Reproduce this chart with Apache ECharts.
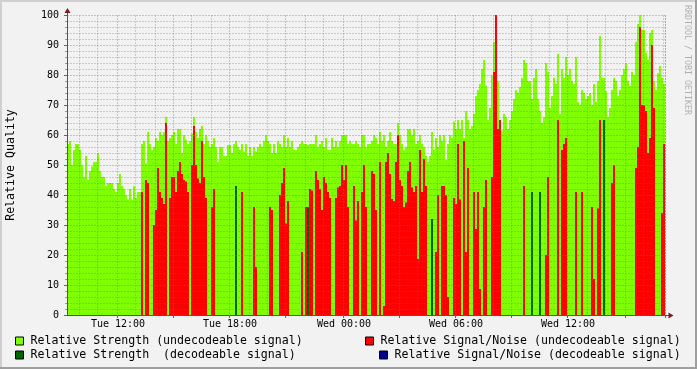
<!DOCTYPE html>
<html><head><meta charset="utf-8">
<script src="https://cdn.jsdelivr.net/npm/echarts@6/dist/echarts.min.js"></script>
<style>html,body{margin:0;padding:0;background:#f2f2f2}#c{width:697px;height:369px}</style>
</head><body><div id="c"></div>
<script>
// ---- data (one value per sample) ----
const strengthUndecodeable = [
57,58,50,55,57,57,55,50,46,53,
45,48,49.5,51,51,54,48,46,46,43,
44,44,44,42,41,44,47,43,42,40,
38.5,42,38.5,43,39,41,41,57,58,50.5,
61,57,55,56,59,58,61,60,61,66,
58,59,60,61,57,62,62,54,60,58.5,
57,58,60.5,66,61,59,62,63,57,60,
58,56,57,59,56,51,56,56,53,53,
56.7,56.7,54,57,58,56,55,57,54.5,57,
53,56,53,56,54.5,56,57,56,58,60,
58,57,54,57,54,58,57,56,60,56,
59,56,58,55,55,56,57,58,57,57,
56.7,57,57,57,60,56,57,58,56,59,
55,55,59,56,58,56,58,60,60,60,
57,58,57,57,58,57,56,60,60,56,
57,57,58,60,59,57,61,58,60,56,
58,61,58,57,57,64,60,57,55,56,
62,62,60,62,57,58,60,57,56,53,
51,53,61,55,59,56,60,58,60,51.7,
57,60,59,64.5,62,65,62,65,59,68,
65,62,63,67,73,75,77,82,85,76.5,
65,69,80,91,82,78,63,61.5,67,66,
62,65,68,72,75,74,76,79,85,84,
78,78,72,79,82,72,68,64,66,84,
81,69,73,79,77,87,67,82,79,86,
80,82,78,77,86,71,70,75,74,72,
73,74,70,77,71,78,93,79,79,74.7,
66,69,75,79,78,73,75,80,82,84,
78,76.3,81,80,91,97,100,95,95,87.5,
85,94,95,78,75,80.6,83,79,77
];
const snrUndecodeable = [
0,0,0,0,0,0,0,0,0,0,
0,0,0,0,0,0,0,0,0,0,
0,0,0,0,0,0,0,0,0,0,
0,0,0,0,0,0,0,41,0,45,
44,0,0,30,35,49,41,39,37,64,
0,39,46,46,41,48,51,47,45,44.5,
41,0,50,63,50,45.5,44,58,46,39,
0,0,36,42,0,0,0,0,0,0,
0,0,0,0,8,0,0,41,0,0,
0,0,0,36,16,0,0,0,0,0,
0,36,35,0,0,0,40,44,49,30.5,
38,0,0,0,0,0,0,21,0,36,
20,42,41.5,0,48,45,42,35,46,44,
41,39,0,0,39,42.5,43,50,45,50,
36,0,0,43,31.5,38,0,41,50,36,
0,0,48,47,35,0,51,0,3,51,
54,47,38.7,38,51,60,45,43,36,37.5,
48,51,42.5,41,43,18.7,55,41,52,43,
0,0,0,0,21,40,0,43,43,40,
6,0,0,39,37,57,38.5,0,58,21,
49,0,0,41,28.7,41,8.7,0,36,45,
0,0,46,81,100,62,65,0,0,0,
0,0,0,0,0,0,0,0,43,0,
0,0,0,0,0,0,0,0,0,20,
46,0,0,0,0,65,0,55,57,59,
0,0,0,0,41,0,0,41,0,0,
0,0,36,12,0,35.5,65,0,0,0,
0,0,44,50,0,0,0,0,0,0,
0,0,0,0,49,56,96,70,70,68,
54,59,90,69,0,0,0,34,57
];
// decodeable-signal samples: [sample index, value]
const strengthDecodeableSamples = [[84,43],[120,36],[182,32],[232,41],[236,41],[268,65]];
const snrDecodeableSamples = [];

const seriesNames = [
  'Relative Strength (undecodeable signal)',
  'Relative Signal/Noise (undecodeable signal)',
  'Relative Strength  (decodeable signal)',
  'Relative Signal/Noise (decodeable signal)'
];
const seriesColors = ['#80ff00', '#ff0000', '#006400', '#000094'];

const startHour = 9.368;     // Tue 09:22 (hours since Tue 00:00)
const stepHours = 0.10632;   // sampling step
const labelHours = [12, 18, 24, 30, 36];
const labelTexts = ['Tue 12:00', 'Tue 18:00', 'Wed 00:00', 'Wed 06:00', 'Wed 12:00'];

// ---- build ----
const N = strengthUndecodeable.length;
function pad(n){return (n<10?'0':'')+n;}
const categories = [];
for (let i = 0; i < N; i++) {
  const t = startHour + i * stepHours;
  const day = t < 24 ? 'Tue' : 'Wed';
  const h = Math.floor(t % 24), m = Math.floor((t % 1) * 60);
  categories.push(day + ' ' + pad(h) + ':' + pad(m));
}
function sparse(list){ const a = new Array(N).fill(0); list.forEach(p => a[p[0]] = p[1]); return a; }
const strengthDecodeable = sparse(strengthDecodeableSamples);
const snrDecodeable = sparse(snrDecodeableSamples);

const endHour = startHour + N * stepHours;
const hourIdx = {}, threeIdx = {}, labelIdx = {};
for (let h = Math.ceil(startHour); h <= Math.floor(endHour); h++) {
  const idx = Math.round((h - startHour) / stepHours);
  if (h % 3 === 0) threeIdx[idx] = true; else hourIdx[idx] = true;
}
labelHours.forEach((h, k) => { labelIdx[Math.round((h - startHour) / stepHours)] = labelTexts[k]; });

const mono = 'DejaVu Sans Mono';
const minorColor = 'rgba(110,110,110,0.3)';
const majorColor = 'rgba(230,70,70,0.38)';

const chart = echarts.init(document.getElementById('c'), null, {renderer: 'canvas'});
const mk = (k, data) => ({
  name: seriesNames[k], type: 'bar', data: data, xAxisIndex: 0,
  barGap: '-100%', barCategoryGap: '0%', silent: true,
  itemStyle: {color: seriesColors[k], borderWidth: 0}, z: 2 + k
});
const legendPos = [
  {left: 15, top: 335}, {left: 365, top: 335},
  {left: 15, top: 349}, {left: 379, top: 349}
];
chart.setOption({
  animation: false,
  backgroundColor: '#f2f2f2',
  grid: {left: 67, top: 15, width: 598, height: 300, containLabel: false, outerBoundsMode: 'none'},
  xAxis: [
    {
      type: 'category', data: categories, boundaryGap: true, position: 'bottom', z: 10,
      axisLine: {show: true, onZero: false, lineStyle: {color: '#555', width: 1}},
      axisTick: {show: false},
      axisLabel: {
        interval: (i) => labelIdx[i] !== undefined,
        formatter: (v, i) => labelIdx[i] || '',
        fontFamily: mono, fontSize: 10, color: '#000', margin: 4
      },
      splitLine: {show: true, interval: (i) => !!hourIdx[i], lineStyle: {color: minorColor, type: [2, 1], width: 1}}
    },
    {
      type: 'category', data: categories, boundaryGap: true, position: 'bottom', z: 10,
      axisLine: {show: false},
      axisTick: {show: true, interval: (i) => !!threeIdx[i], length: 3, lineStyle: {color: '#c04040'}},
      axisLabel: {show: false},
      splitLine: {show: true, interval: (i) => !!threeIdx[i], lineStyle: {color: majorColor, type: [2, 1], width: 1}}
    }
  ],
  yAxis: {
    type: 'value', min: 0, max: 100, interval: 10, z: 10,
    name: 'Relative Quality', nameLocation: 'middle', nameGap: 50, nameRotate: 90,
    nameTextStyle: {fontFamily: mono, fontSize: 11.6, color: '#000'},
    axisLine: {show: true, lineStyle: {color: '#555', width: 1}},
    axisTick: {show: true, length: 3, lineStyle: {color: '#c04040'}},
    minorTick: {show: true, splitNumber: 5, length: 2, lineStyle: {color: '#999'}},
    axisLabel: {fontFamily: mono, fontSize: 10, color: '#000', margin: 8},
    splitLine: {show: true, lineStyle: {color: majorColor, type: [2, 1], width: 1}},
    minorSplitLine: {show: true, lineStyle: {color: minorColor, type: [2, 1], width: 1}}
  },
  legend: seriesNames.map((n, k) => ({
    data: [n], left: legendPos[k].left, top: legendPos[k].top, orient: 'horizontal',
    icon: 'rect', itemWidth: 8, itemHeight: 8, padding: 0,
    itemStyle: {borderColor: '#000', borderWidth: 1},
    textStyle: {fontFamily: mono, fontSize: 11.6, color: '#000', lineHeight: 12, padding: [0, 0, 0, 2]},
    selectedMode: false
  })),
  series: [
    mk(0, strengthUndecodeable),
    mk(1, snrUndecodeable),
    mk(2, strengthDecodeable),
    mk(3, snrDecodeable)
  ],
  graphic: [
    {type: 'rect', shape: {x: 0, y: 0, width: 697, height: 2}, style: {fill: '#cfcfcf'}, silent: true},
    {type: 'rect', shape: {x: 0, y: 0, width: 2, height: 369}, style: {fill: '#cfcfcf'}, silent: true},
    {type: 'rect', shape: {x: 0, y: 367, width: 697, height: 2}, style: {fill: '#9e9e9e'}, silent: true},
    {type: 'rect', shape: {x: 695, y: 0, width: 2, height: 369}, style: {fill: '#9e9e9e'}, silent: true},
    {type: 'line', shape: {x1: 67.5, y1: 10, x2: 67.5, y2: 15}, style: {stroke: '#555', lineWidth: 1}, z: 20, silent: true},
    {type: 'line', shape: {x1: 665, y1: 315.5, x2: 669, y2: 315.5}, style: {stroke: '#555', lineWidth: 1}, z: 20, silent: true},
    {type: 'polygon', shape: {points: [[64.5, 13], [70.5, 13], [67.5, 8]]}, style: {fill: '#7f1a1a'}, z: 20, silent: true},
    {type: 'polygon', shape: {points: [[668.5, 312.5], [668.5, 318.5], [673.5, 315.5]]}, style: {fill: '#7f1a1a'}, z: 20, silent: true},
    {type: 'text', x: 691, y: 5, rotation: -Math.PI / 2,
     style: {text: 'RRDTOOL / TOBI OETIKER', font: '8.3px "DejaVu Sans Mono"', fill: '#b0b0b0', textAlign: 'left', textVerticalAlign: 'top'}, silent: true}
  ]
});
</script>
</body></html>
